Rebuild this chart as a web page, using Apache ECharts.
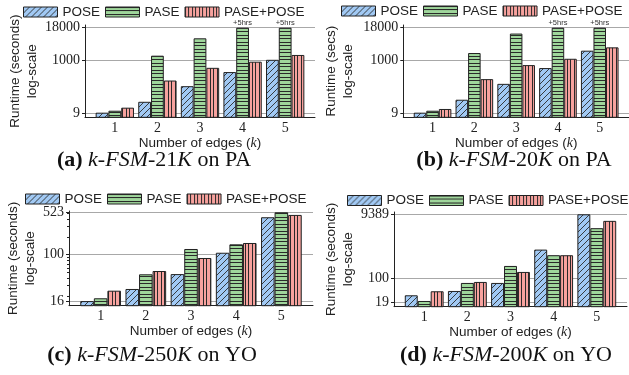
<!DOCTYPE html>
<html>
<head>
<meta charset="utf-8">
<script src="https://cdn.jsdelivr.net/npm/echarts@6/dist/echarts.min.js"></script>
<style>
html, body { margin: 0; padding: 0; background: #fff; }
#main { width: 629px; height: 375px; }
</style>
</head>
<body>
<div id="main"></div>
<script>
var kValues = [1, 2, 3, 4, 5];
var seriesNames = ['POSE', 'PASE', 'PASE+POSE'];

// (a) k-FSM-21K on PA
var poseA = [9.5, 25, 100, 350, 1040];
var paseA = [11.3, 1500, 7000, 18000, 18000];
var bothA = [14.8, 165, 510, 880, 1600];
// (b) k-FSM-20K on PA
var poseB = [9.5, 30, 123, 500, 2340];
var paseB = [11.3, 1900, 10700, 18000, 18000];
var bothB = [13.2, 187, 650, 1140, 3140];
// (c) k-FSM-250K on YO
var poseC = [16.4, 26.3, 47, 108, 431];
var paseC = [18.3, 46.6, 125, 150, 523];
var bothC = [24.6, 53, 88, 158, 472];
// (d) k-FSM-200K on YO
var poseD = [30.5, 41.4, 73, 773, 9389];
var paseD = [20.4, 73, 243, 519, 3520];
var bothD = [40.5, 78.4, 159, 519, 5900];

var ticksA = [9, 1000, 18000];
var ticksB = [9, 1000, 18000];
var ticksC = [16, 100, 523];
var minorC = [20, 30, 40, 50, 60, 70, 80, 90, 200, 300, 400, 500];
var ticksD = [19, 100, 9389];
var timeoutK = [4, 5]; // PASE capped, marked +5hrs

// hatch fills like matplotlib
function hatch(bg, kind) {
    var c = document.createElement('canvas');
    var s = kind === 'diag' ? 6 : 7;
    c.width = s; c.height = s;
    var g = c.getContext('2d');
    g.fillStyle = bg;
    g.fillRect(0, 0, s, s);
    g.fillStyle = '#2a2a2a';
    g.strokeStyle = '#2a2a2a';
    if (kind === 'diag') {
        g.lineWidth = 0.9;
        g.beginPath();
        g.moveTo(-1, s + 1); g.lineTo(s + 1, -1);
        g.moveTo(-1, 1); g.lineTo(1, -1);
        g.moveTo(s - 1, s + 1); g.lineTo(s + 1, s - 1);
        g.stroke();
    } else if (kind === 'horiz') {
        g.fillRect(0, 0, s, 1);
        g.fillRect(0, 3, s, 1);
    } else {
        g.fillRect(0, 0, 1, s);
        g.fillRect(3, 0, 1, s);
    }
    return { image: c, repeat: 'repeat' };
}

var fills = [hatch('#a1c9f4', 'diag'), hatch('#9fd69b', 'horiz'), hatch('#f7a29e', 'vert')];

var panels = [
    { left: 85, top: 25, width: 230, height: 92.3, min: 6.3, max: 22900, ticks: ticksA,
      data: [poseA, paseA, bothA], yName: 'Runtime (seconds)\nlog-scale', nameGap: 44,
      xNameGap: 13, legendLeft: 23, legendTop: 5, timeout: true,
      capX: 154, capY: 160, cap: '{b|(a)} {i|k}{r|-}{i|FSM}{r|-21}{i|K} {r|on PA}' },
    { left: 403.3, top: 25, width: 230, height: 92.3, min: 6.3, max: 22900, ticks: ticksB,
      data: [poseB, paseB, bothB], yName: 'Runtime (secs)\nlog-scale', nameGap: 47,
      xNameGap: 13, legendLeft: 341, legendTop: 4, timeout: true,
      capX: 514, capY: 160, cap: '{b|(b)} {i|k}{r|-}{i|FSM}{r|-20}{i|K} {r|on PA}' },
    { left: 69, top: 211, width: 244, height: 94.7, min: 13.7, max: 550, ticks: ticksC, minor: minorC,
      data: [poseC, paseC, bothC], yName: 'Runtime (seconds)\nlog-scale', nameGap: 27,
      xNameGap: 18, legendLeft: 25, legendTop: 192, timeout: false,
      capX: 152, capY: 355, cap: '{b|(c)} {i|k}{r|-}{i|FSM}{r|-250}{i|K} {r|on YO}' },
    { left: 394, top: 212, width: 233, height: 94.7, min: 13.6, max: 11050, ticks: ticksD,
      data: [poseD, paseD, bothD], yName: 'Runtime (seconds)\nlog-scale', nameGap: 36,
      xNameGap: 18, legendLeft: 347, legendTop: 193.5, timeout: false,
      capX: 506, capY: 355, cap: '{b|(d)} {i|k}{r|-}{i|FSM}{r|-200}{i|K} {r|on YO}' }
];

var serif = 'Liberation Serif';
var sans = 'Liberation Sans';

var option = {
    backgroundColor: '#fff',
    animation: false,
    grid: [], xAxis: [], yAxis: [], series: [], legend: [], graphic: []
};

panels.forEach(function (p, gi) {
    option.grid.push({ left: p.left, top: p.top, width: p.width, height: p.height });
    option.xAxis.push({
        type: 'value', gridIndex: gi, min: 0.3, max: 5.7,
        name: 'Number of edges ({k|k})', nameLocation: 'middle', nameGap: p.xNameGap,
        nameTextStyle: { fontFamily: sans, fontSize: 13.5, color: '#222',
            rich: { k: { fontFamily: serif, fontStyle: 'italic', fontSize: 14, color: '#222' } } },
        axisLine: { show: true, onZero: false, lineStyle: { color: '#222', width: 1 } },
        axisTick: { show: false },
        splitLine: { show: false },
        axisLabel: { customValues: kValues, fontFamily: serif, fontSize: 14, color: '#222', margin: 4 }
    });
    var yi = option.yAxis.length;
    option.yAxis.push({
        type: 'log', logBase: 10, gridIndex: gi, position: 'left', min: p.min, max: p.max,
        name: p.yName, nameLocation: 'middle', nameGap: p.nameGap,
        nameTextStyle: { fontFamily: sans, fontSize: 13.5, lineHeight: 17, color: '#222' },
        axisLine: { show: true, lineStyle: { color: '#222', width: 1 } },
        axisTick: { show: true, customValues: p.ticks, length: 3, lineStyle: { color: '#222' } },
        axisLabel: { customValues: p.ticks, fontFamily: serif, fontSize: 14, color: '#222', margin: 5,
            formatter: function (v) { return String(Math.round(v)); } },
        splitLine: { show: true, lineStyle: { color: '#a8a8a8', width: 1 } }
    });
    if (p.minor) {
        option.yAxis.push({
            type: 'log', logBase: 10, gridIndex: gi, position: 'left', min: p.min, max: p.max,
            axisLine: { show: false },
            axisTick: { show: true, customValues: p.minor, length: 2, lineStyle: { color: '#222' } },
            axisLabel: { show: false },
            splitLine: { show: false }
        });
    }
    seriesNames.forEach(function (name, si) {
        var vals = p.data[si];
        option.series.push({
            type: 'bar', name: name, xAxisIndex: gi, yAxisIndex: yi,
            barWidth: '30%', barGap: '0%', clip: true,
            itemStyle: { color: fills[si], borderColor: '#222', borderWidth: 1 },
            data: kValues.map(function (k, i) {
                var item = { value: [k, vals[i]] };
                if (p.timeout && si === 1 && timeoutK.indexOf(k) >= 0) {
                    item.label = { show: true, position: 'top', distance: 1, formatter: '+5hrs',
                        fontFamily: sans, fontSize: 7.5, color: '#333' };
                }
                return item;
            })
        });
    });
    option.legend.push({
        left: p.legendLeft, top: p.legendTop, width: 320, padding: 0,
        itemWidth: 34, itemHeight: 10, itemGap: 5, icon: 'rect',
        data: seriesNames,
        itemStyle: { borderColor: '#222', borderWidth: 1 },
        textStyle: { fontFamily: sans, fontSize: 13.5, color: '#222', padding: [0, 0, 0, 0] }
    });
    option.graphic.push({
        type: 'text', x: p.capX, y: p.capY,
        style: {
            text: p.cap, align: 'center', verticalAlign: 'middle',
            fontFamily: serif, fontSize: 22, fill: '#111',
            rich: {
                b: { fontFamily: serif, fontWeight: 'bold', fontSize: 22, fill: '#111' },
                i: { fontFamily: serif, fontStyle: 'italic', fontSize: 22, fill: '#111' },
                r: { fontFamily: serif, fontSize: 22, fill: '#111' }
            }
        }
    });
});

var chart = echarts.init(document.getElementById('main'));
chart.setOption(option);
</script>
</body>
</html>
